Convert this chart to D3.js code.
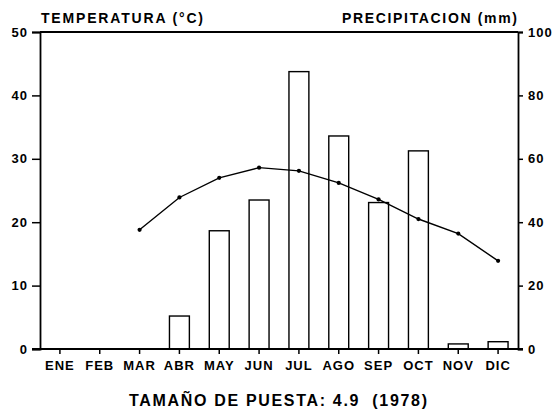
<!DOCTYPE html>
<html>
<head>
<meta charset="utf-8">
<script src="https://cdn.jsdelivr.net/npm/d3@7"></script>
<style>
  body { margin: 0; background: #fff; }
  text { font-family: "Liberation Sans", Arial, sans-serif; font-weight: bold; fill: #000; }
</style>
</head>
<body>
<div id="chart-area"></div>
<script>
const MONTHS = ["ENE", "FEB", "MAR", "ABR", "MAY", "JUN", "JUL", "AGO", "SEP", "OCT", "NOV", "DIC"]
// precipitation (mm), bars, right axis
const PRECIP = [0, 0, 0, 10.4, 37.3, 47.0, 87.5, 67.2, 46.2, 62.5, 1.6, 2.3]
// temperature (°C), line, left axis; null = no data
const TEMP = [null, null, 18.8, 23.9, 27.0, 28.6, 28.1, 26.2, 23.6, 20.5, 18.2, 13.9]
const TEMP_TICKS = [0, 10, 20, 30, 40, 50]
const PRECIP_TICKS = [0, 20, 40, 60, 80, 100]

const W = 560, H = 411
const LEFT = 40, RIGHT = 518, TOP = 32, BOTTOM = 349

const svg = d3.select("#chart-area").append("svg")
	.attr("width", W)
	.attr("height", H)

const x = d3.scaleBand()
	.domain(MONTHS)
	.range([LEFT, RIGHT])
	.paddingInner(0.5)
	.paddingOuter(0.25)
const yT = d3.scaleLinear().domain([0, 50]).range([BOTTOM, TOP])
const yP = d3.scaleLinear().domain([0, 100]).range([BOTTOM, TOP])

// Bars
svg.selectAll("rect.bar")
	.data(PRECIP.map((v, i) => ({ m: MONTHS[i], v })).filter(d => d.v > 0))
	.enter().append("rect")
	.attr("class", "bar")
	.attr("x", d => x(d.m))
	.attr("width", x.bandwidth())
	.attr("y", d => yP(d.v))
	.attr("height", d => BOTTOM - yP(d.v))
	.attr("fill", "#fff")
	.attr("stroke", "#000")
	.attr("stroke-width", 1.4)

// Temperature line
const tData = TEMP.map((v, i) => ({ m: MONTHS[i], v })).filter(d => d.v !== null)
const line = d3.line()
	.x(d => x(d.m) + x.bandwidth() / 2)
	.y(d => yT(d.v))
svg.append("path")
	.datum(tData)
	.attr("d", line)
	.attr("fill", "none")
	.attr("stroke", "#000")
	.attr("stroke-width", 1.4)
svg.selectAll("circle")
	.data(tData)
	.enter().append("circle")
	.attr("cx", d => x(d.m) + x.bandwidth() / 2)
	.attr("cy", d => yT(d.v))
	.attr("r", 2.1)
	.attr("fill", "#000")

// Axes
const leftAxis = d3.axisLeft(yT).tickValues(TEMP_TICKS).tickSize(8).tickPadding(4)
const rightAxis = d3.axisRight(yP).tickValues(PRECIP_TICKS).tickSize(5).tickPadding(5)
const bottomAxis = d3.axisBottom(x).tickSize(5).tickPadding(7)

const gl = svg.append("g").attr("transform", `translate(${LEFT},0)`).call(leftAxis)
const gr = svg.append("g").attr("transform", `translate(${RIGHT},0)`).call(rightAxis)
const gb = svg.append("g").attr("transform", `translate(0,${BOTTOM})`).call(bottomAxis)
gb.select(".domain").remove()
;[gl, gr, gb].forEach(g => {
	g.selectAll("line").attr("stroke", "#000").attr("stroke-width", 1.5)
	g.selectAll(".domain").attr("stroke", "#000").attr("stroke-width", 1.8)
	g.selectAll("text").attr("font-size", 13).attr("font-family", null)
		.attr("letter-spacing", 1)
})

// top & bottom frame lines
svg.append("line")
	.attr("x1", LEFT - 8).attr("x2", RIGHT + 5)
	.attr("y1", yT(0)).attr("y2", yT(0))
	.attr("stroke", "#000").attr("stroke-width", 1.8)
svg.append("line")
	.attr("x1", LEFT).attr("x2", RIGHT)
	.attr("y1", TOP).attr("y2", TOP)
	.attr("stroke", "#000").attr("stroke-width", 1.8)

// Labels
svg.append("text")
	.attr("x", LEFT + 1)
	.attr("y", 23)
	.attr("font-size", 14)
	.attr("textLength", 162)
	.attr("lengthAdjust", "spacing")
	.text("TEMPERATURA (°C)")
svg.append("text")
	.attr("x", 342)
	.attr("y", 23)
	.attr("font-size", 14)
	.attr("textLength", 175)
	.attr("lengthAdjust", "spacing")
	.text("PRECIPITACION (mm)")
svg.append("text")
	.attr("x", 129)
	.attr("y", 406)
	.attr("font-size", 16)
	.attr("textLength", 298)
	.attr("lengthAdjust", "spacing")
	.style("white-space", "pre")
	.text("TAMAÑO DE PUESTA: 4.9  (1978)")
</script>
</body>
</html>
